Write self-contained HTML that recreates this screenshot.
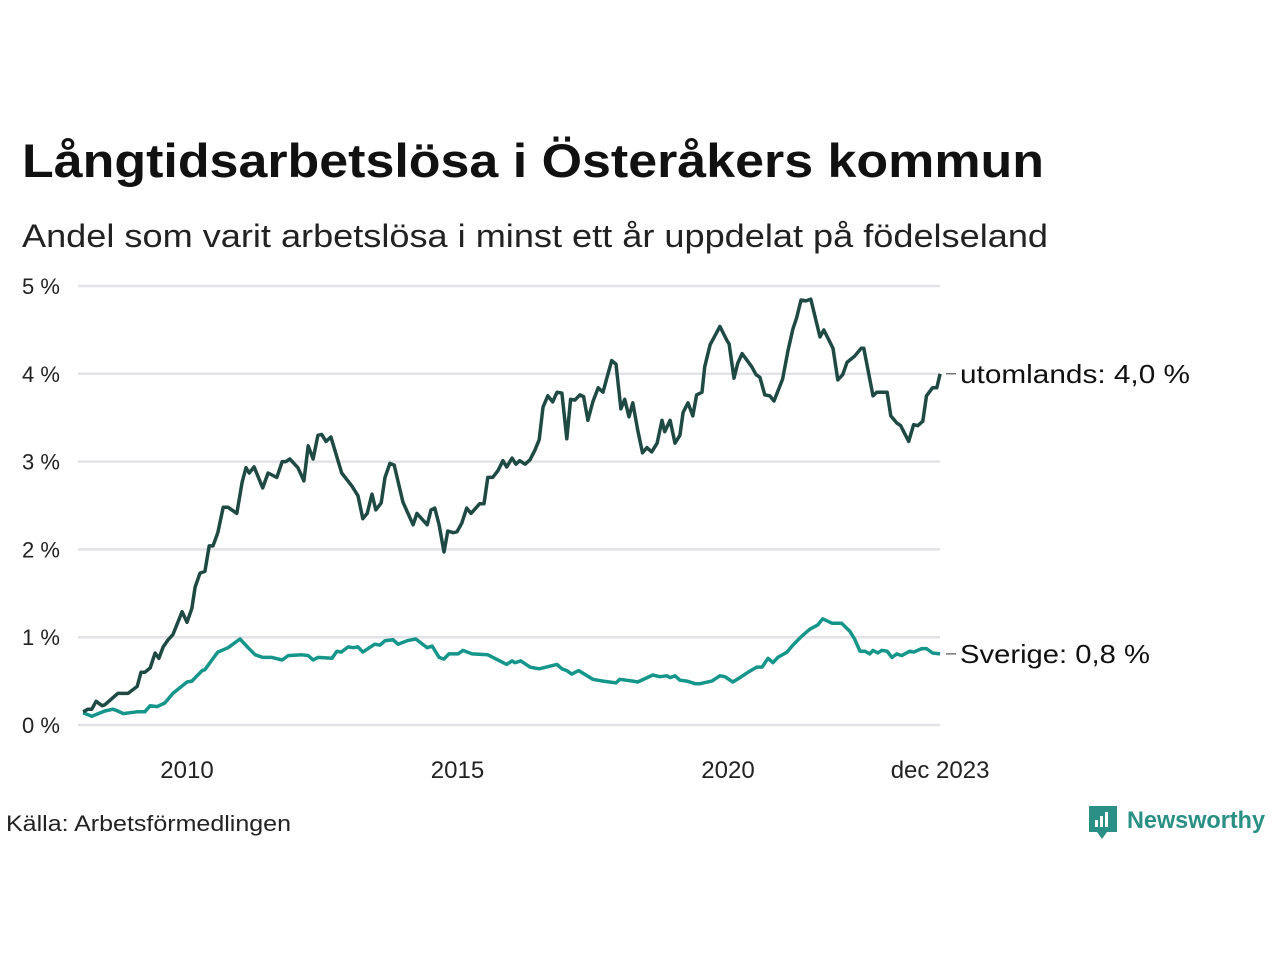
<!DOCTYPE html>
<html><head><meta charset="utf-8"><style>
html,body{margin:0;padding:0;background:#fff;}
svg{display:block;font-family:"Liberation Sans",sans-serif;}
</style></head><body>
<svg id="chart" width="1280" height="960" viewBox="0 0 1280 960">
<text x="22" y="177" font-size="47" font-weight="bold" fill="#111" textLength="1022" lengthAdjust="spacingAndGlyphs">Långtidsarbetslösa i Österåkers kommun</text>
<text x="22" y="247" font-size="32" fill="#222" textLength="1026" lengthAdjust="spacingAndGlyphs">Andel som varit arbetslösa i minst ett år uppdelat på födelseland</text>
<g id="grid"></g><g id="lines"></g>
<text x="6" y="831" font-size="22" fill="#222" textLength="285" lengthAdjust="spacingAndGlyphs">Källa: Arbetsförmedlingen</text>
<g>
<path d="M1089 806 h28 v26 h-10 l-5 7 l-5 -7 h-8 z" fill="#2a8f85"/>
<rect x="1095" y="820" width="3" height="7" fill="#fff"/><rect x="1100" y="816" width="3" height="11" fill="#fff"/><rect x="1105" y="812" width="3" height="15" fill="#fff"/>
<text x="1127" y="828" font-size="24" font-weight="bold" fill="#2a8f85" textLength="138" lengthAdjust="spacingAndGlyphs">Newsworthy</text>
</g>
</svg>
<script>
const yTicks=[0,1,2,3,4,5];
const xTickYears=[2010,2015,2020,2023.92];
const xTickLabels=["2010","2015","2020","dec 2023"];
const utT=[2008.08,2008.17,2008.24,2008.32,2008.43,2008.48,2008.72,2008.91,2009.08,2009.15,2009.22,2009.32,2009.41,2009.48,2009.56,2009.65,2009.74,2009.91,2010.00,2010.09,2010.15,2010.24,2010.33,2010.41,2010.48,2010.57,2010.67,2010.76,2010.92,2011.02,2011.09,2011.15,2011.24,2011.40,2011.50,2011.66,2011.76,2011.83,2011.90,2012.05,2012.16,2012.24,2012.33,2012.42,2012.49,2012.57,2012.66,2012.86,2013.05,2013.16,2013.25,2013.33,2013.42,2013.49,2013.59,2013.66,2013.75,2013.83,2013.99,2014.18,2014.25,2014.44,2014.51,2014.58,2014.66,2014.75,2014.82,2014.92,2014.99,2015.08,2015.17,2015.25,2015.41,2015.49,2015.56,2015.65,2015.75,2015.84,2015.91,2016.01,2016.08,2016.15,2016.25,2016.34,2016.43,2016.51,2016.58,2016.67,2016.76,2016.84,2016.93,2017.02,2017.09,2017.17,2017.26,2017.33,2017.41,2017.50,2017.60,2017.69,2017.76,2017.85,2017.93,2018.02,2018.09,2018.17,2018.24,2018.33,2018.42,2018.50,2018.59,2018.69,2018.78,2018.83,2018.93,2019.02,2019.11,2019.17,2019.26,2019.35,2019.42,2019.52,2019.57,2019.67,2019.85,2019.98,2020.02,2020.11,2020.18,2020.26,2020.44,2020.52,2020.59,2020.68,2020.77,2020.85,2021.01,2021.11,2021.20,2021.27,2021.35,2021.44,2021.53,2021.70,2021.77,2021.94,2022.03,2022.12,2022.20,2022.34,2022.46,2022.51,2022.68,2022.75,2022.94,2023.01,2023.12,2023.19,2023.34,2023.43,2023.51,2023.60,2023.67,2023.78,2023.86,2023.92];
const utV=[0.15,0.18,0.18,0.27,0.22,0.23,0.36,0.36,0.44,0.60,0.60,0.65,0.82,0.76,0.89,0.97,1.03,1.29,1.17,1.33,1.57,1.73,1.75,2.04,2.04,2.19,2.48,2.48,2.41,2.77,2.93,2.87,2.94,2.70,2.87,2.82,3.00,3.00,3.03,2.93,2.78,3.18,3.03,3.30,3.31,3.23,3.28,2.87,2.72,2.61,2.35,2.41,2.63,2.45,2.53,2.82,2.98,2.96,2.54,2.28,2.41,2.28,2.45,2.47,2.28,1.97,2.21,2.19,2.20,2.30,2.47,2.41,2.52,2.52,2.82,2.82,2.90,3.01,2.94,3.04,2.97,3.01,2.97,3.02,3.13,3.25,3.62,3.75,3.68,3.79,3.78,3.26,3.71,3.70,3.76,3.74,3.47,3.68,3.84,3.79,3.95,4.15,4.11,3.60,3.71,3.51,3.67,3.36,3.10,3.16,3.11,3.21,3.47,3.34,3.47,3.21,3.30,3.56,3.67,3.52,3.76,3.79,4.08,4.33,4.54,4.38,4.34,3.95,4.12,4.23,4.08,3.99,3.96,3.76,3.75,3.69,3.94,4.27,4.51,4.64,4.84,4.83,4.85,4.42,4.50,4.29,3.93,3.99,4.13,4.20,4.29,4.29,3.75,3.79,3.79,3.52,3.44,3.41,3.23,3.42,3.41,3.46,3.75,3.84,3.84,4.00];
const svT=[2008.08,2008.24,2008.48,2008.63,2008.72,2008.82,2009.08,2009.22,2009.32,2009.45,2009.59,2009.74,2010.00,2010.09,2010.28,2010.33,2010.46,2010.57,2010.76,2010.98,2011.13,2011.26,2011.40,2011.57,2011.76,2011.87,2012.13,2012.24,2012.33,2012.42,2012.68,2012.77,2012.85,2012.98,2013.07,2013.16,2013.25,2013.47,2013.57,2013.66,2013.81,2013.90,2014.07,2014.23,2014.44,2014.53,2014.66,2014.75,2014.84,2015.01,2015.10,2015.27,2015.56,2015.91,2016.01,2016.06,2016.17,2016.34,2016.51,2016.84,2016.93,2017.02,2017.11,2017.24,2017.50,2017.69,2017.93,2018.00,2018.24,2018.33,2018.61,2018.74,2018.87,2018.93,2019.02,2019.11,2019.24,2019.39,2019.48,2019.70,2019.85,2019.94,2020.09,2020.22,2020.37,2020.53,2020.63,2020.74,2020.83,2020.92,2021.09,2021.20,2021.36,2021.51,2021.66,2021.75,2021.92,2022.10,2022.25,2022.34,2022.44,2022.53,2022.62,2022.68,2022.77,2022.84,2022.94,2023.03,2023.12,2023.21,2023.36,2023.43,2023.58,2023.67,2023.78,2023.92];
const svV=[0.14,0.10,0.16,0.18,0.16,0.13,0.15,0.15,0.22,0.21,0.25,0.36,0.49,0.50,0.62,0.63,0.74,0.83,0.88,0.98,0.88,0.80,0.77,0.77,0.74,0.79,0.80,0.79,0.74,0.77,0.76,0.84,0.83,0.89,0.88,0.89,0.83,0.92,0.91,0.96,0.97,0.92,0.96,0.98,0.88,0.90,0.77,0.75,0.81,0.81,0.85,0.81,0.80,0.69,0.73,0.71,0.73,0.66,0.64,0.69,0.64,0.62,0.58,0.62,0.52,0.50,0.48,0.52,0.50,0.49,0.57,0.55,0.56,0.54,0.56,0.51,0.50,0.47,0.47,0.50,0.56,0.55,0.49,0.54,0.60,0.66,0.66,0.76,0.71,0.77,0.83,0.91,1.01,1.09,1.14,1.21,1.16,1.16,1.07,0.98,0.84,0.84,0.81,0.85,0.82,0.85,0.84,0.77,0.81,0.79,0.84,0.83,0.87,0.87,0.82,0.81];
const NS="http://www.w3.org/2000/svg";
const X=t=>187+(t-2010)*54.1;
const Y=v=>725-v*87.8;
const grid=document.getElementById('grid'),lines=document.getElementById('lines');
function mk(tag,attrs,parent){const e=document.createElementNS(NS,tag);for(const k in attrs)e.setAttribute(k,attrs[k]);parent.appendChild(e);return e;}
yTicks.forEach(v=>{
 const l=mk('line',{x1:78,x2:940,y1:Y(v),y2:Y(v),stroke:'#e2e2e8','stroke-width':2.5},grid);
 
 
 const t=mk('text',{x:22,y:Y(v)+8,'font-size':22,fill:'#222'},grid);
 t.textContent=v+' %';
 
 
});
xTickYears.forEach((yr,i)=>{
 const t=mk('text',{x:X(yr),y:778,'font-size':24,fill:'#222','text-anchor':'middle'},grid);
 t.textContent=xTickLabels[i];
 
 
});
function series(T,V,color,name,label,lw){
 const d=T.map((t,i)=>(i?'L':'M')+X(t).toFixed(1)+' '+Y(V[i]).toFixed(1)).join(' ');
 const p=mk('path',{d:d,fill:'none',stroke:color,'stroke-width':3.5,'stroke-linejoin':'round'},lines);
 
 
 const last=V[V.length-1],ly=Y(last);
 mk('line',{x1:946,x2:956,y1:ly,y2:ly,stroke:'#333','stroke-width':1},lines);
 const t=mk('text',{x:960,y:ly+9,'font-size':26,fill:'#111',textLength:lw,lengthAdjust:'spacingAndGlyphs'},lines);
 t.textContent=label+': '+last.toFixed(1).replace('.',',')+' %';
 
 
}
series(svT,svV,'#16968a','sverige-line','Sverige',190);
series(utT,utV,'#1f4a44','utomlands-line','utomlands',230);
</script>
</body></html>
